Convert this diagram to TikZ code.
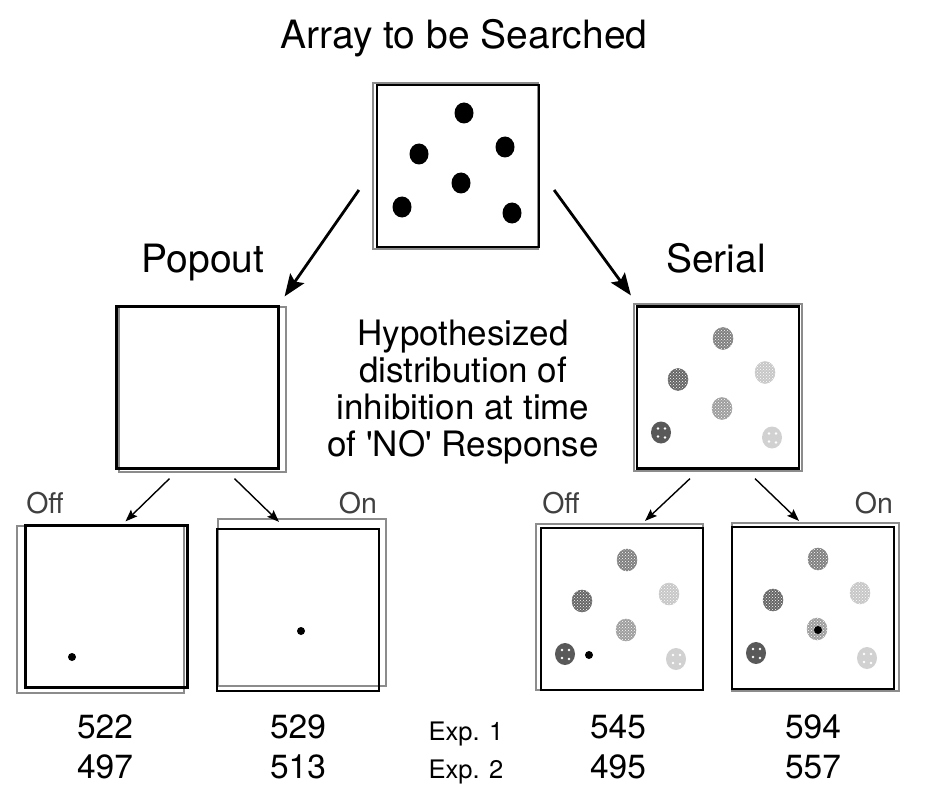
\documentclass[tikz,border=0pt]{standalone}
\usepackage{fontspec}
\setmainfont{TeX Gyre Heros}
\usetikzlibrary{arrows.meta, positioning, patterns}

% six inhibition blobs round the centre of a box (used inside a shifted scope)
\newcommand{\spots}[2]{%
  \foreach \sx/\sy in {-3/-4, 4/-4, -3/4, 4/5}
    {\fill[white] ({#1+\sx},{#2+\sy}) circle [radius=1.4];}}
\newcommand{\inhibdots}{%
  \path[stipple=black!50] (5,-49) ellipse [x radius=10, y radius=11];
  \path[stipple=black!60] (-40,-8) ellipse [x radius=10, y radius=11];
  \path[stipple=black!22] (47,-15) ellipse [x radius=10, y radius=11];
  \path[stipple=black!38] (4,21) ellipse [x radius=10, y radius=11];
  \path[fill=black!65] (-57,45) ellipse [x radius=10, y radius=11];
  \spots{-57}{45}
  \path[fill=black!18] (54,50) ellipse [x radius=10, y radius=11];
  \spots{54}{50}}

\begin{document}
\begin{tikzpicture}[
        x=1pt, y=-1pt,
        frame/.style={draw, line width=2.2pt, minimum size=162pt, inner sep=0pt},
        ghost/.style={draw=black!45, line width=1.1pt},
        bigarrow/.style={-{Stealth[length=22pt,width=17pt,inset=4pt]}, line width=2.8pt},
        smallarrow/.style={-{Stealth[length=12pt,width=9pt,inset=2pt]}, line width=1.4pt},
        heading/.style={font=\fontsize{39}{44}\selectfont, inner sep=0pt, anchor=base},
        note/.style={font=\fontsize{35}{37}\selectfont, inner sep=0pt, align=center},
        switch/.style={font=\fontsize{28.5}{32}\selectfont, text=black!75, inner sep=0pt, anchor=base},
        score/.style={font=\fontsize{33.5}{36}\selectfont, inner sep=0pt, anchor=base},
        explabel/.style={font=\fontsize{25.5}{28}\selectfont, inner sep=0pt, anchor=base},
        stipple/.style={fill=#1, draw=#1, line width=0.5pt,
          postaction={pattern=crosshatch dots, pattern color=white}},
        marker/.style={fill=black},
        ]
        \useasboundingbox (0,0) rectangle (935,797);

        % headings
        \node[heading] (title) at (464,49) {Array to be Searched};
        \node[heading] (poplabel) at (203,272) {Popout};
        \node[heading] (serlabel) at (716,272) {Serial};
        \node[note] (hypo) at (463,392) {Hypothesized\\distribution of\\inhibition at time\\of \textquotesingle NO\textquotesingle\ Response};

        % array
        \draw[ghost] (373,83) rectangle (538,249);
        \node[frame] (array) at (458,166) {};
        \begin{scope}[shift={(array.center)}]
          \foreach \dx/\dy in {6/-53, -39/-12, 47/-19, 3/17, -56/41, 54/47}
            {\fill (\dx,\dy) ellipse [x radius=9.5, y radius=10.5];}
        \end{scope}

        % second row
        \draw[ghost] (119,307) rectangle (286,472);
        \node[frame] (popout) at (197.5,387.5) {};
        \draw[ghost] (634,304) rectangle (802,471);
        \node[frame] (serial) at (718,387.5) {};
        \begin{scope}[shift={(serial.center)}]
          \inhibdots
        \end{scope}

        % third row
        \draw[ghost] (17,526) rectangle (184,693);
        \node[frame] (offpop) at (106.5,606.5) {};
        \fill[marker] ([shift={(-34.5,50.5)}]offpop.center) circle [radius=4];
        \draw[ghost] (218,519) rectangle (386,686);
        \node[frame] (onpop) at (298,610) {};
        \fill[marker] ([shift={(3,21)}]onpop.center) circle [radius=4];

        \draw[ghost] (536,524) rectangle (703,690);
        \node[frame] (offser) at (622,609) {};
        \begin{scope}[shift={(offser.center)}]
          \inhibdots
          \fill[marker] (-33,46) circle [radius=4];
        \end{scope}
        \draw[ghost] (732,523) rectangle (899,691);
        \node[frame] (onser) at (813,608) {};
        \begin{scope}[shift={(onser.center)}]
          \inhibdots
          \fill[marker] (5,22) circle [radius=4];
        \end{scope}

        \node[switch] (offpoplabel) at (45,513) {Off};
        \node[switch] (onpoplabel) at (358,513) {On};
        \node[switch] (offserlabel) at (561,513) {Off};
        \node[switch] (onserlabel) at (874,513) {On};

        % arrows
        \draw[bigarrow] ([shift={(-17,24)}]array.west) -- ([shift={(5,-9)}]popout.north east);
        \draw[bigarrow] ([shift={(14,24)}]array.east) -- ([shift={(-5,-10)}]serial.north west);
        \draw[smallarrow] ([shift={(-28,9)}]popout.south) -- ([shift={(19,-3)}]offpop.north);
        \draw[smallarrow] ([shift={(37,9)}]popout.south) -- ([shift={(-19,-6)}]onpop.north);
        \draw[smallarrow] ([shift={(-28,9)}]serial.south) -- ([shift={(23,-6)}]offser.north);
        \draw[smallarrow] ([shift={(37,9)}]serial.south) -- ([shift={(-14,-5)}]onser.north);

        % response times
        \node[score] (offpopa) at (105,738) {522};
        \node[score] (onpopa) at (298,738) {529};
        \node[explabel] (expa) at (466,740) {Exp. 1};
        \node[score] (offsera) at (618,738) {545};
        \node[score] (onsera) at (813,738) {594};
        \node[score, below=40pt of offpopa.base, anchor=base] (offpopb) {497};
        \node[score, below=40pt of onpopa.base, anchor=base] (onpopb) {513};
        \node[explabel, below=38pt of expa.base, anchor=base] (expb) {Exp. 2};
        \node[score, below=40pt of offsera.base, anchor=base] (offserb) {495};
        \node[score, below=40pt of onsera.base, anchor=base] (onserb) {557};
      \end{tikzpicture}
\end{document}
